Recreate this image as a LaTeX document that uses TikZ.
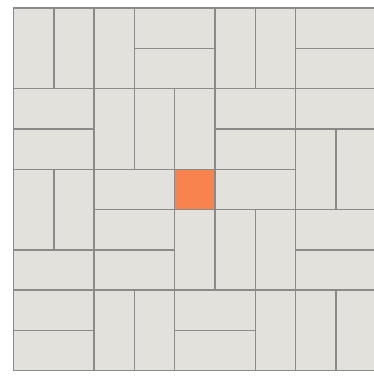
\documentclass[tikz,border=0pt]{standalone}
\definecolor{tilefill}{HTML}{E2E1DB}
\definecolor{tileline}{HTML}{8A8A88}
\definecolor{centre}{HTML}{F8834F}
\tikzset{
  tile/.style={fill=tilefill, draw=tileline, line width=1.4pt, line join=miter},
  centretile/.style={fill=centre, draw=tileline, line width=1.4pt}
}
\begin{document}
\begin{tikzpicture}[x=1pt,y=1pt]
\useasboundingbox (0,0) rectangle (374,-378);
\fill[white] (0,0) rectangle (374,-378);
\clip (0,0) rectangle (374,-378);
\begin{scope}[shift={(13.5,-8)}, x=40.3pt, y=-40.3pt]
\foreach \c/\r/\w/\h in {
  0/0/1/2, 1/0/1/2, 2/0/1/2, 3/0/2/1, 3/1/2/1, 5/0/1/2, 6/0/1/2, 7/0/2/1, 7/1/2/1,
  0/2/2/1, 0/3/2/1, 2/2/1/2, 3/2/1/2, 4/2/1/2, 5/2/2/1, 5/3/2/1, 7/2/2/1, 7/3/1/2, 8/3/1/2,
  0/4/1/2, 1/4/1/2, 2/4/2/1, 5/4/2/1,
  2/5/2/1, 4/5/1/2, 5/5/1/2, 6/5/1/2, 7/5/2/1,
  0/6/2/1, 2/6/2/1, 7/6/2/1,
  0/7/2/1, 0/8/2/1, 2/7/1/2, 3/7/1/2, 4/7/2/1, 4/8/2/1, 6/7/1/2, 7/7/1/2, 8/7/1/2}
  \draw[tile] (\c,\r) rectangle ++(\w,\h);
\draw[centretile] (4,4) rectangle (5,5);
\end{scope}
\end{tikzpicture}
\end{document}
